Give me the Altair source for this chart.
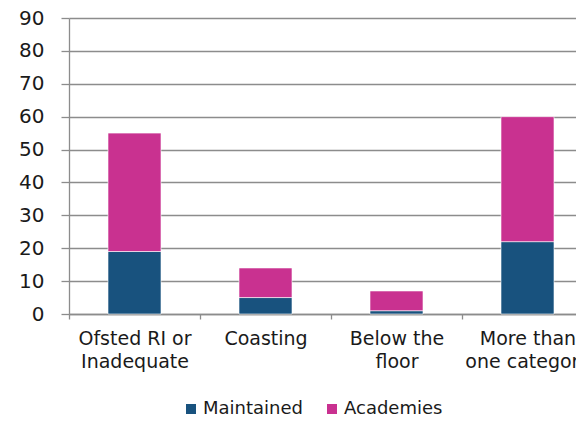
import altair as alt
import pandas as pd

categories = ["Ofsted RI or|Inadequate", "Coasting", "Below the|floor", "More than|one category"]
maintained = [19, 5, 1, 22]
academies = [36, 9, 6, 38]
series = ["Maintained", "Academies"]
colors = ["#18527E", "#C93190"]

rows = []
for c, m, a in zip(categories, maintained, academies):
    rows.append({"cat": c, "series": "Maintained", "value": m, "ord": 0})
    rows.append({"cat": c, "series": "Academies", "value": a, "ord": 1})
df = pd.DataFrame(rows)

chart = alt.Chart(df).mark_bar(size=53, stroke="white", strokeWidth=0.6).encode(
    x=alt.X("cat:N", sort=categories, title=None,
            scale=alt.Scale(paddingInner=0, paddingOuter=0),
            axis=alt.Axis(labelExpr="split(datum.label, '|')", labelAngle=0,
                          labelFont="DejaVu Sans", labelFontSize=19, labelColor="#1a1a1a",
                          labelLineHeight=23, labelPadding=10, tickBand="extent",
                          tickSize=5, tickColor="#8c8c8c", domainColor="#8c8c8c",
                          domainWidth=1.3, tickWidth=1.3, labelLimit=0)),
    y=alt.Y("value:Q", stack="zero", title=None,
            scale=alt.Scale(domain=[0, 90], nice=False),
            axis=alt.Axis(values=list(range(0, 91, 10)), labelFont="DejaVu Sans", labelFontSize=20,
                          labelColor="#1a1a1a", labelPadding=17, tickSize=8,
                          tickColor="#8c8c8c", domainColor="#8c8c8c", gridColor="#8c8c8c",
                          gridWidth=1.3, domainWidth=1.3, tickWidth=1.3, grid=True)),
    color=alt.Color("series:N", sort=series,
                    scale=alt.Scale(domain=series, range=colors),
                    legend=alt.Legend(title=None, orient="none", legendX=113, legendY=382,
                                      direction="horizontal", symbolType="square",
                                      symbolSize=100, symbolStrokeWidth=0, labelOffset=3,
                                      columnPadding=20, padding=0,
                                      labelFont="DejaVu Sans", labelFontSize=18,
                                      labelColor="#1a1a1a")),
    order=alt.Order("ord:Q"),
).properties(
    width=524, height=296,
    autosize=alt.AutoSizeParams(type="none"),
    padding={"left": 61, "top": 10, "right": -17, "bottom": 100},
).configure_view(stroke=None)

chart.save("out.html", embed_options={"renderer": "svg", "actions": False})
